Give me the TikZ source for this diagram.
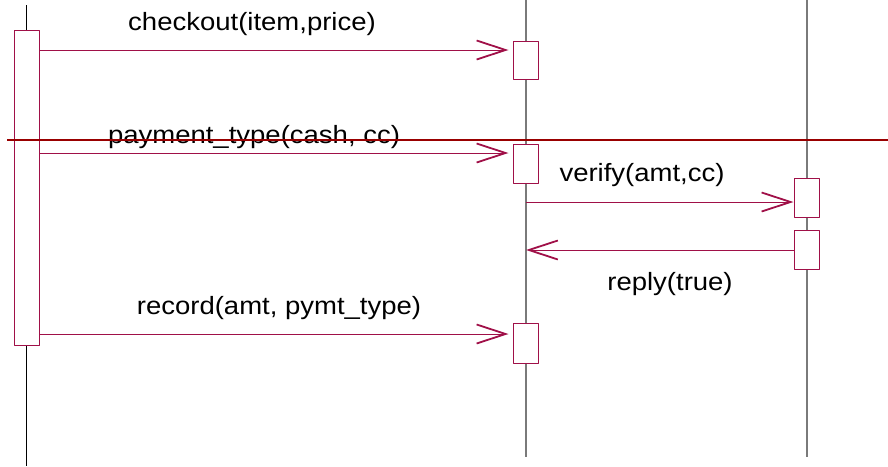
\documentclass[tikz,border=0pt]{standalone}
\usepackage{fontspec}
\newfontfamily\lblfont[FakeStretch=1.1]{Liberation Sans}
\usetikzlibrary{arrows.meta}
\definecolor{msgred}{HTML}{A01048}
\definecolor{barred}{HTML}{990000}
\definecolor{lifegray}{HTML}{7A7A7A}
\tikzset{
  act/.style={draw=msgred,fill=white,minimum width=25pt,inner sep=0pt},
  msg/.style={msgred,->},
  lbl/.style={anchor=base,inner sep=0pt}
}
\begin{document}
\begin{tikzpicture}[x=1pt,y=-1pt,line width=1pt,font=\lblfont\fontsize{25}{30}\selectfont,line join=round,
  >={Straight Barb[length=29pt,width=19pt,line width=1.8pt]}]
\useasboundingbox (0,0) rectangle (888,466);
\path
(26.5,5) coordinate (L)
(526,0) coordinate (M)
(807,0) coordinate (R)
(0,50) coordinate (y1)
(0,153) coordinate (y2)
(0,202) coordinate (y3)
(0,250) coordinate (y4)
(0,334) coordinate (y5)
;
% lifelines
\draw (L) -- (L |- 0,466);
\draw[lifegray,line width=1.4pt] (M) -- (M |- 0,457) (R) -- (R |- 0,457);
% activations
\node[act,minimum height=315pt] (a0) at (26.5,187.5) {};
\node[act,minimum height=38pt] (a1) at (525.5,60.3) {};
\node[act,minimum height=39pt] (a2) at (525.5,163.5) {};
\node[act,minimum height=40pt] (a3) at (525.5,343) {};
\node[act,minimum height=39pt] (b1) at (806.5,197.5) {};
\node[act,minimum height=39pt] (b2) at (806.5,249.5) {};
% labels
\node[lbl] (t1) at (252,30.5) {checkout(item,price)};
\node[lbl] (t2) at (254,143) {payment\_type(cash, cc)};
\node[lbl] (t3) at (642,181.5) {verify(amt,cc)};
\node[lbl] (t4) at (670,290) {reply(true)};
\node[lbl] (t5) at (279,314) {record(amt, pymt\_type)};
% messages
\draw[msg,shorten >=4pt] (a0.east |- y1) -- (a1.west |- y1);
\draw[msg,shorten >=4pt] (a0.east |- y2) -- (a2.west |- y2);
\draw[msg] (M |- y3) -- (b1.west |- y3);
\draw[msg] (b2.west |- y4) -- (M |- y4);
\draw[msg,shorten >=4pt] (a0.east |- y5) -- (a3.west |- y5);
% divider
\draw[barred,line width=2pt] (7,140) -- (888,140);
\end{tikzpicture}
\end{document}
